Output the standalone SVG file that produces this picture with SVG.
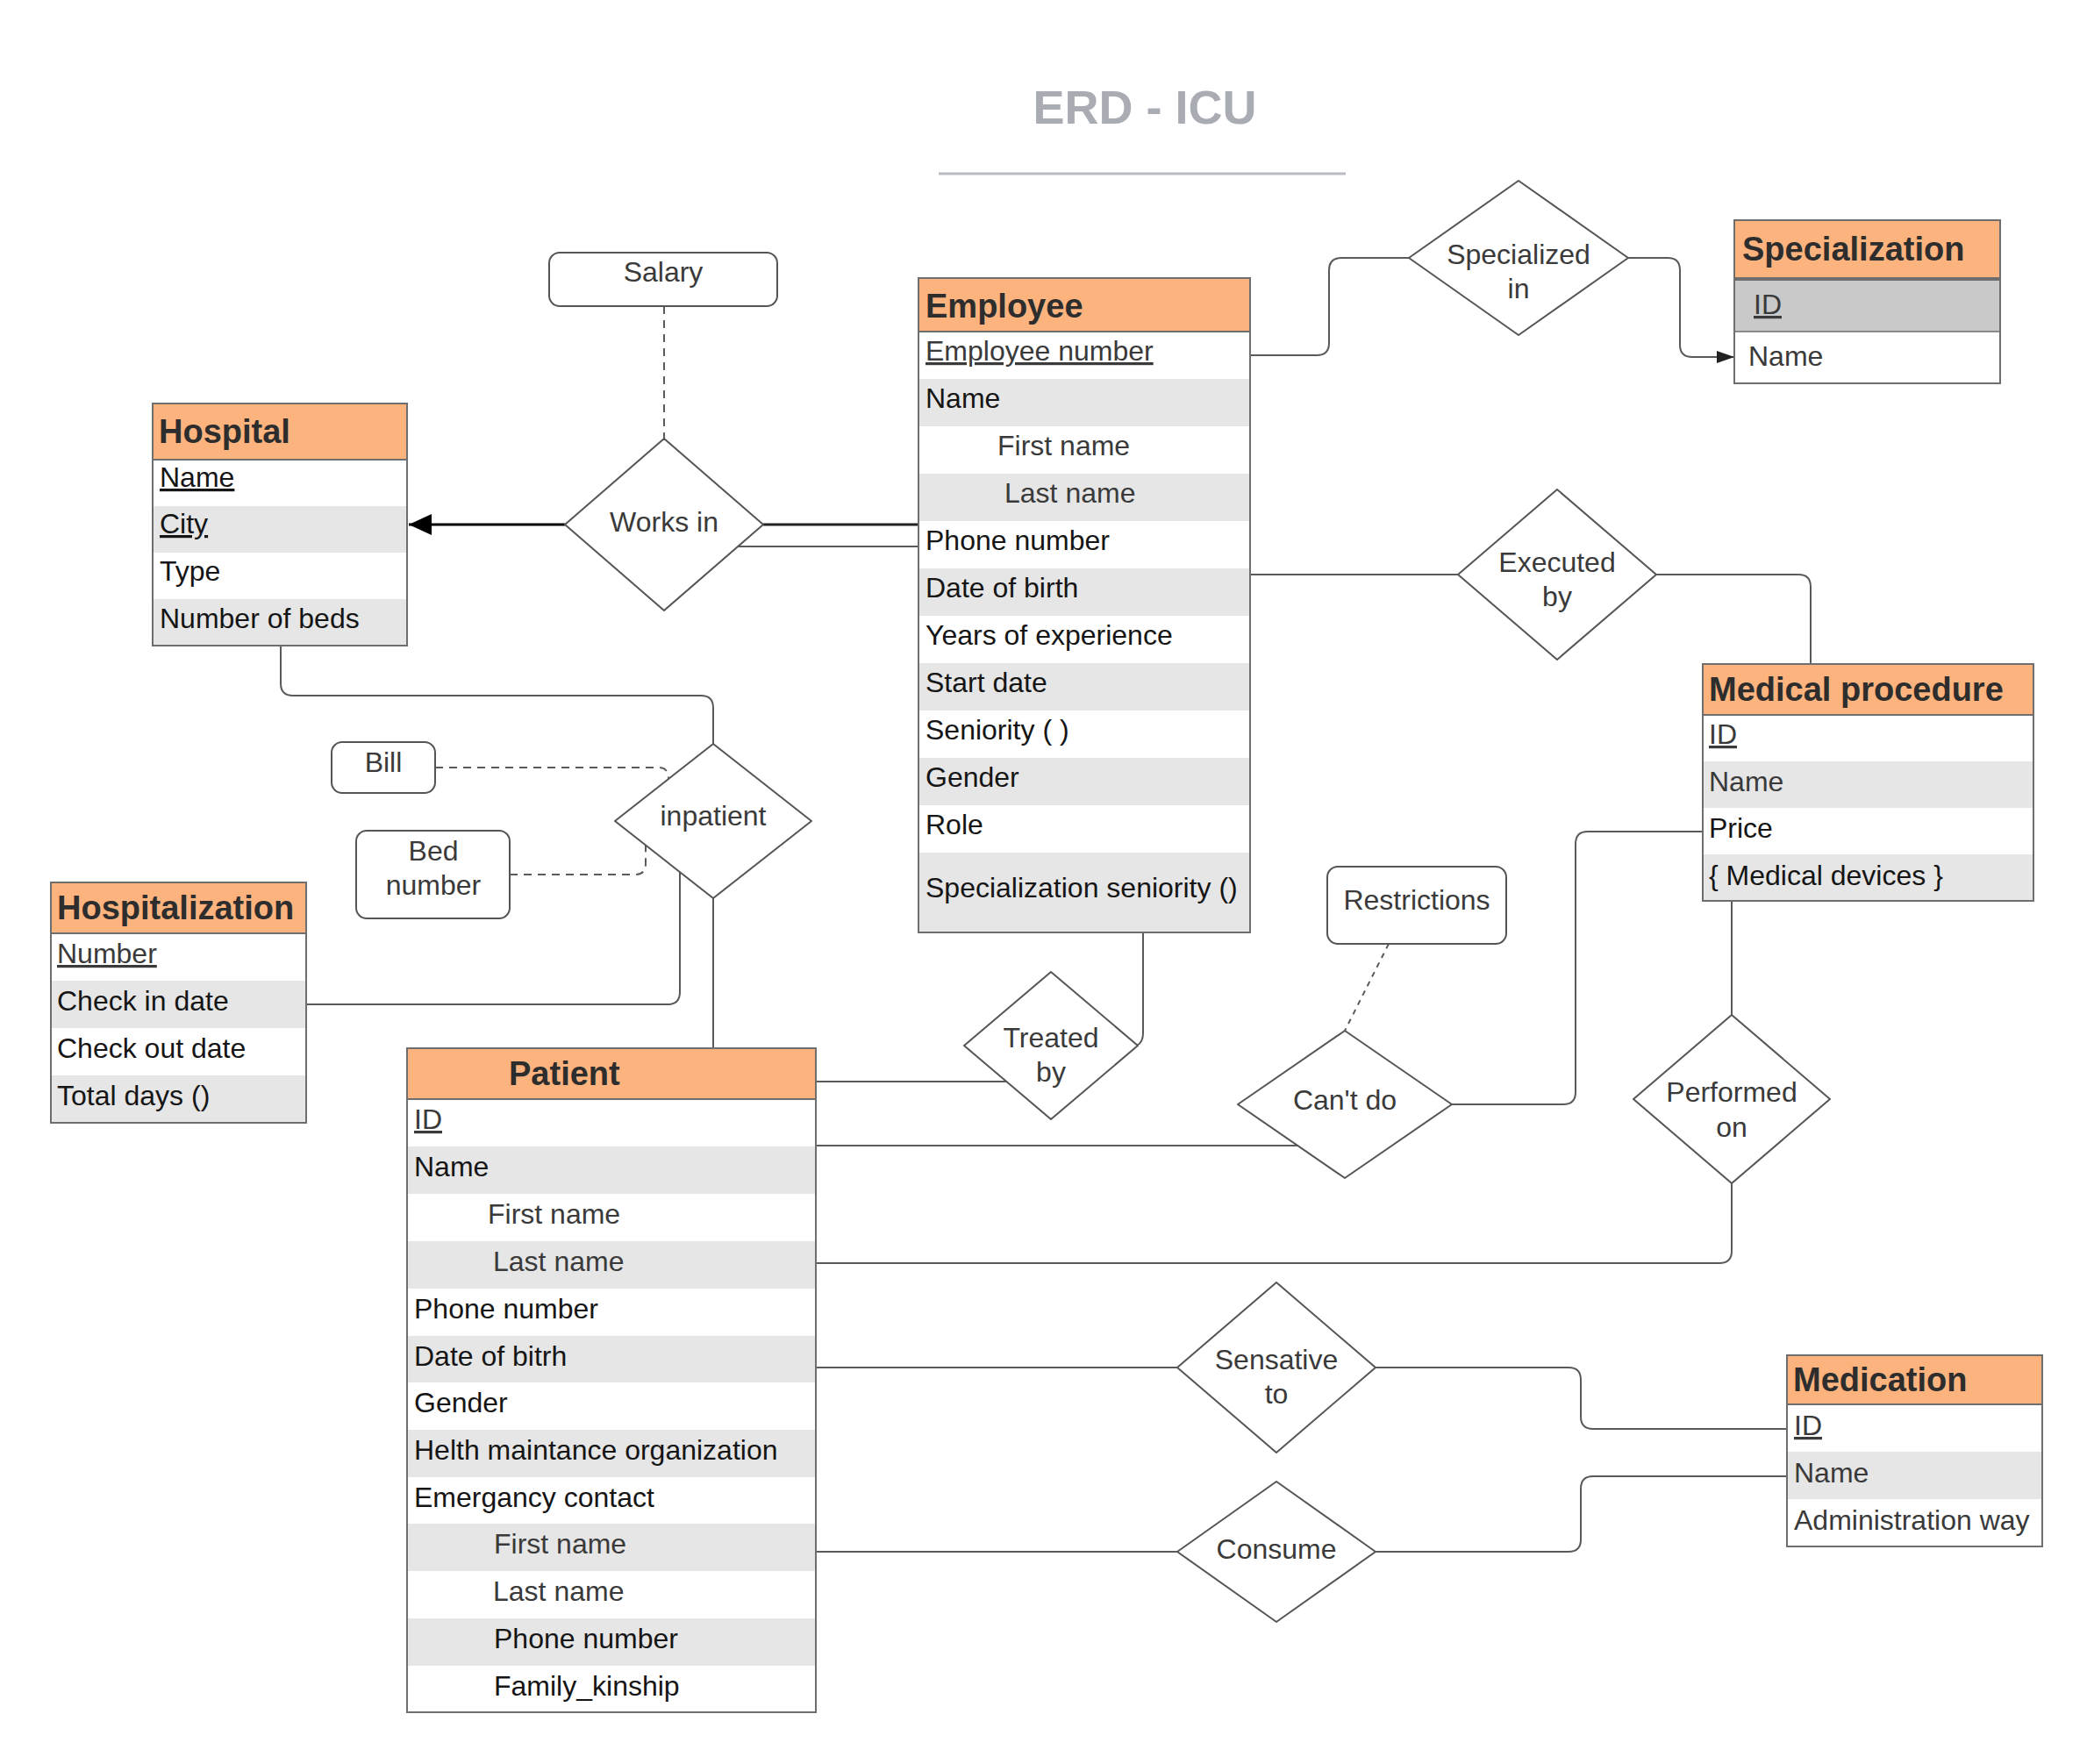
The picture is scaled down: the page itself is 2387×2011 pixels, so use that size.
<svg xmlns="http://www.w3.org/2000/svg" width="2387" height="2011" viewBox="0 0 2387 2011">
<style>
text{font-family:"Liberation Sans",Arial,sans-serif;}
.hd{fill:#FCB37E;stroke:#6e6e6e;stroke-width:2;}
.g{fill:#E6E6E6;}
.w{fill:#FFFFFF;}
.box{fill:none;stroke:#6e6e6e;stroke-width:2;}
.ht{font-size:38px;font-weight:bold;fill:#2d2d2d;}
.rt{font-size:32px;fill:#151515;}
.st{font-size:32px;fill:#3a3a3a;}
.u{text-decoration:underline;}
.dm{fill:#fff;stroke:#555;stroke-width:2;stroke-linejoin:round;}
.dt{font-size:32px;fill:#3a3a3a;text-anchor:middle;}
.at{fill:#fff;stroke:#555;stroke-width:2;}
.c{fill:none;stroke:#5a5a5a;stroke-width:2;}
.dash{fill:none;stroke:#5a5a5a;stroke-width:2;stroke-dasharray:9,7;}
.dot{fill:none;stroke:#5a5a5a;stroke-width:2;stroke-dasharray:6,6;}
</style>
<defs>
<marker id="bigArrow" markerUnits="userSpaceOnUse" viewBox="0 0 26 24" refX="26" refY="12" markerWidth="26" markerHeight="24" orient="auto"><path d="M0,0 L26,12 L0,24 z" fill="#000"/></marker>
<marker id="smallArrow" markerUnits="userSpaceOnUse" viewBox="0 0 20 14" refX="20" refY="7" markerWidth="20" markerHeight="14" orient="auto"><path d="M0,0 L20,7 L0,14 z" fill="#222"/></marker>
</defs>
<rect x="0" y="0" width="2387" height="2011" fill="#fff"/>

<g id="title">
<text x="1305" y="141" font-size="54" font-weight="bold" fill="#A9ACB3" text-anchor="middle">ERD - ICU</text>
<line x1="1070" y1="198" x2="1534" y2="198" stroke="#B9BCC3" stroke-width="3"/>
</g>

<g id="connectors">
<path class="dash" d="M757,349 V500"/>
<path class="c" d="M1425,405 H1501 Q1515,405 1515,391 V308 Q1515,294 1529,294 H1606"/>
<path class="c" d="M1856,294 H1901 Q1915,294 1915,308 V393 Q1915,407 1929,407 H1977" marker-end="url(#smallArrow)"/>
<path d="M644,598 H466" fill="none" stroke="#000" stroke-width="3" marker-end="url(#bigArrow)"/>
<path d="M870,598 H1047" fill="none" stroke="#222" stroke-width="3"/>
<path class="c" d="M841,623 H1047"/>
<path class="c" d="M1425,655 H1662"/>
<path class="c" d="M1888,655 H2050 Q2064,655 2064,669 V757"/>
<path class="c" d="M320,736 V779 Q320,793 334,793 H799 Q813,793 813,807 V848"/>
<path class="dash" d="M496,875 H750 Q762,875 762,887 V892"/>
<path class="dash" d="M581,997 H724 Q736,997 736,985 V962"/>
<path class="c" d="M349,1145 H761 Q775,1145 775,1131 V994"/>
<path class="c" d="M813,1024 V1195"/>
<path class="c" d="M1303,1063 V1178 Q1303,1188 1296,1192"/>
<path class="c" d="M930,1233 H1147"/>
<path class="dot" d="M1583,1076 L1533,1175"/>
<path class="c" d="M930,1306 H1479"/>
<path class="c" d="M1655,1259 H1782 Q1796,1259 1796,1245 V962 Q1796,948 1810,948 H1941"/>
<path class="c" d="M1974,1027 V1157"/>
<path class="c" d="M1974,1349 V1426 Q1974,1440 1960,1440 H930"/>
<path class="c" d="M930,1559 H1342"/>
<path class="c" d="M1568,1559 H1788 Q1802,1559 1802,1573 V1615 Q1802,1629 1816,1629 H2037"/>
<path class="c" d="M930,1769 H1342"/>
<path class="c" d="M1568,1769 H1788 Q1802,1769 1802,1755 V1697 Q1802,1683 1816,1683 H2037"/>
</g>

<g id="hospital">
<rect class="w" x="174" y="524" width="290" height="53"/>
<rect class="g" x="174" y="577" width="290" height="53"/>
<rect class="w" x="174" y="630" width="290" height="53"/>
<rect class="g" x="174" y="683" width="290" height="53"/>
<rect class="hd" x="174" y="460" width="290" height="64"/>
<rect class="box" x="174" y="460" width="290" height="276"/>
<text class="ht" x="181" y="505">Hospital</text>
<text class="rt u" x="182" y="555">Name</text>
<text class="rt u" x="182" y="608">City</text>
<text class="rt" x="182" y="662">Type</text>
<text class="rt" x="182" y="716">Number of beds</text>
</g>

<g id="employee">
<rect class="w" x="1047" y="378" width="378" height="54"/>
<rect class="g" x="1047" y="432" width="378" height="54"/>
<rect class="w" x="1047" y="486" width="378" height="54"/>
<rect class="g" x="1047" y="540" width="378" height="54"/>
<rect class="w" x="1047" y="594" width="378" height="54"/>
<rect class="g" x="1047" y="648" width="378" height="54"/>
<rect class="w" x="1047" y="702" width="378" height="54"/>
<rect class="g" x="1047" y="756" width="378" height="54"/>
<rect class="w" x="1047" y="810" width="378" height="54"/>
<rect class="g" x="1047" y="864" width="378" height="54"/>
<rect class="w" x="1047" y="918" width="378" height="54"/>
<rect class="g" x="1047" y="972" width="378" height="91"/>
<rect class="hd" x="1047" y="317" width="378" height="61"/>
<rect class="box" x="1047" y="317" width="378" height="746"/>
<text class="ht" x="1055" y="362">Employee</text>
<text class="st u" x="1055" y="411">Employee number</text>
<text class="rt" x="1055" y="465">Name</text>
<text class="st" x="1137" y="519">First name</text>
<text class="st" x="1145" y="573">Last name</text>
<text class="rt" x="1055" y="627">Phone number</text>
<text class="rt" x="1055" y="681">Date of birth</text>
<text class="rt" x="1055" y="735">Years of experience</text>
<text class="rt" x="1055" y="789">Start date</text>
<text class="rt" x="1055" y="843">Seniority ( )</text>
<text class="rt" x="1055" y="897">Gender</text>
<text class="rt" x="1055" y="951">Role</text>
<text class="rt" x="1055" y="1023">Specialization seniority ()</text>
</g>

<g id="specialization">
<rect fill="#C9C9C9" x="1977" y="319" width="303" height="59"/>
<rect class="w" x="1977" y="378" width="303" height="59"/>
<rect class="hd" x="1977" y="251" width="303" height="66"/>
<line x1="1977" y1="319" x2="2280" y2="319" stroke="#6e6e6e" stroke-width="2"/>
<line x1="1977" y1="378" x2="2280" y2="378" stroke="#6e6e6e" stroke-width="1.5"/>
<rect class="box" x="1977" y="251" width="303" height="186"/>
<text class="ht" x="1986" y="297">Specialization</text>
<text class="st u" x="1999" y="358">ID</text>
<text class="st" x="1993" y="417">Name</text>
</g>

<g id="medical-procedure">
<rect class="w" x="1941" y="815" width="377" height="53"/>
<rect class="g" x="1941" y="868" width="377" height="53"/>
<rect class="w" x="1941" y="921" width="377" height="53"/>
<rect class="g" x="1941" y="974" width="377" height="53"/>
<rect class="hd" x="1941" y="757" width="377" height="58"/>
<rect class="box" x="1941" y="757" width="377" height="270"/>
<text class="ht" x="1948" y="799">Medical procedure</text>
<text class="st u" x="1948" y="848">ID</text>
<text class="st" x="1948" y="902">Name</text>
<text class="rt" x="1948" y="955">Price</text>
<text class="rt" x="1948" y="1009">{ Medical devices }</text>
</g>

<g id="hospitalization">
<rect class="w" x="58" y="1064" width="291" height="54"/>
<rect class="g" x="58" y="1118" width="291" height="54"/>
<rect class="w" x="58" y="1172" width="291" height="54"/>
<rect class="g" x="58" y="1226" width="291" height="54"/>
<rect class="hd" x="58" y="1006" width="291" height="58"/>
<rect class="box" x="58" y="1006" width="291" height="274"/>
<text class="ht" x="65" y="1048">Hospitalization</text>
<text class="st u" x="65" y="1098">Number</text>
<text class="rt" x="65" y="1152">Check in date</text>
<text class="rt" x="65" y="1206">Check out date</text>
<text class="rt" x="65" y="1260">Total days ()</text>
</g>

<g id="patient">
<rect class="w" x="464" y="1253" width="466" height="54"/>
<rect class="g" x="464" y="1307" width="466" height="54"/>
<rect class="w" x="464" y="1361" width="466" height="54"/>
<rect class="g" x="464" y="1415" width="466" height="54"/>
<rect class="w" x="464" y="1469" width="466" height="54"/>
<rect class="g" x="464" y="1523" width="466" height="53"/>
<rect class="w" x="464" y="1576" width="466" height="54"/>
<rect class="g" x="464" y="1630" width="466" height="54"/>
<rect class="w" x="464" y="1684" width="466" height="53"/>
<rect class="g" x="464" y="1737" width="466" height="54"/>
<rect class="w" x="464" y="1791" width="466" height="54"/>
<rect class="g" x="464" y="1845" width="466" height="54"/>
<rect class="w" x="464" y="1899" width="466" height="53"/>
<rect class="hd" x="464" y="1195" width="466" height="58"/>
<rect class="box" x="464" y="1195" width="466" height="757"/>
<text class="ht" x="580" y="1237">Patient</text>
<text class="st u" x="472" y="1287">ID</text>
<text class="rt" x="472" y="1341">Name</text>
<text class="st" x="556" y="1395">First name</text>
<text class="st" x="562" y="1449">Last name</text>
<text class="rt" x="472" y="1503">Phone number</text>
<text class="rt" x="472" y="1557">Date of bitrh</text>
<text class="rt" x="472" y="1610">Gender</text>
<text class="rt" x="472" y="1664">Helth maintance organization</text>
<text class="rt" x="472" y="1718">Emergancy contact</text>
<text class="st" x="563" y="1771">First name</text>
<text class="st" x="562" y="1825">Last name</text>
<text class="rt" x="563" y="1879">Phone number</text>
<text class="rt" x="563" y="1933">Family_kinship</text>
</g>

<g id="medication">
<rect class="w" x="2037" y="1601" width="291" height="54"/>
<rect class="g" x="2037" y="1655" width="291" height="54"/>
<rect class="w" x="2037" y="1709" width="291" height="54"/>
<rect class="hd" x="2037" y="1545" width="291" height="56"/>
<rect class="box" x="2037" y="1545" width="291" height="218"/>
<text class="ht" x="2044" y="1586">Medication</text>
<text class="st u" x="2045" y="1636">ID</text>
<text class="st" x="2045" y="1690">Name</text>
<text class="st" x="2045" y="1744">Administration way</text>
</g>

<g id="salary">
<rect class="at" x="626" y="288" width="260" height="61" rx="12"/>
<text class="dt" x="756" y="321">Salary</text>
</g>
<g id="bill">
<rect class="at" x="378" y="846" width="118" height="58" rx="12"/>
<text class="dt" x="437" y="880">Bill</text>
</g>
<g id="bed-number">
<rect class="at" x="406" y="947" width="175" height="100" rx="12"/>
<text class="dt" x="494" y="981">Bed</text>
<text class="dt" x="494" y="1020">number</text>
</g>
<g id="restrictions">
<rect class="at" x="1513" y="988" width="204" height="88" rx="12"/>
<text class="dt" x="1615" y="1037">Restrictions</text>
</g>

<g id="specialized-in">
<path class="dm" d="M1606,294 L1731,206 L1856,294 L1731,382 Z"/>
<text class="dt" x="1731" y="301">Specialized</text>
<text class="dt" x="1731" y="340">in</text>
</g>
<g id="works-in">
<path class="dm" d="M644,598 L757,500 L870,598 L757,696 Z"/>
<text class="dt" x="757" y="606">Works in</text>
</g>
<g id="executed-by">
<path class="dm" d="M1662,655 L1775,558 L1888,655 L1775,752 Z"/>
<text class="dt" x="1775" y="652">Executed</text>
<text class="dt" x="1775" y="691">by</text>
</g>
<g id="inpatient">
<path class="dm" d="M701,936 L813,848 L925,936 L813,1024 Z"/>
<text class="dt" x="813" y="941">inpatient</text>
</g>
<g id="treated-by">
<path class="dm" d="M1099,1192 L1198,1108 L1297,1192 L1198,1276 Z"/>
<text class="dt" x="1198" y="1194">Treated</text>
<text class="dt" x="1198" y="1233">by</text>
</g>
<g id="cant-do">
<path class="dm" d="M1411,1259 L1533,1175 L1655,1259 L1533,1343 Z"/>
<text class="dt" x="1533" y="1265">Can't do</text>
</g>
<g id="performed-on">
<path class="dm" d="M1862,1253 L1974,1157 L2086,1253 L1974,1349 Z"/>
<text class="dt" x="1974" y="1256">Performed</text>
<text class="dt" x="1974" y="1296">on</text>
</g>
<g id="sensative-to">
<path class="dm" d="M1342,1559 L1455,1462 L1568,1559 L1455,1656 Z"/>
<text class="dt" x="1455" y="1561">Sensative</text>
<text class="dt" x="1455" y="1600">to</text>
</g>
<g id="consume">
<path class="dm" d="M1342,1769 L1455,1689 L1568,1769 L1455,1849 Z"/>
<text class="dt" x="1455" y="1777">Consume</text>
</g>
</svg>
